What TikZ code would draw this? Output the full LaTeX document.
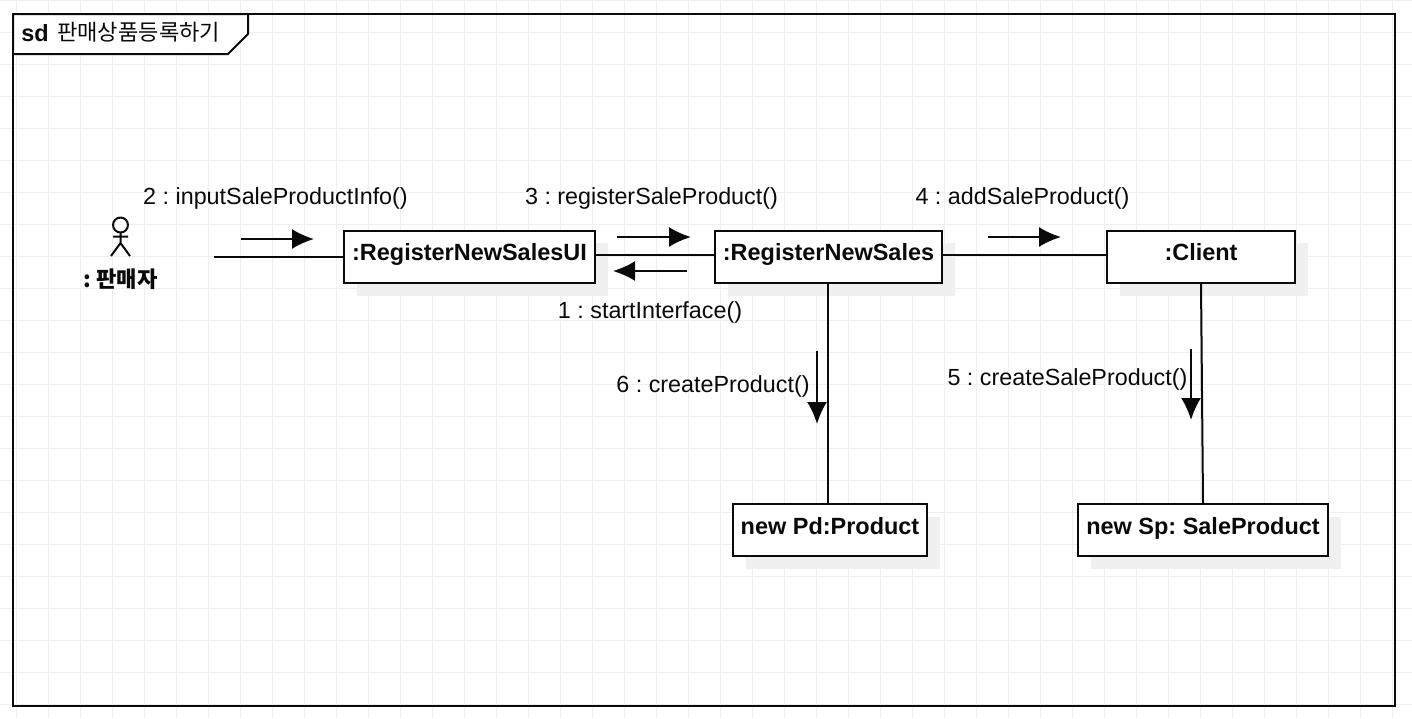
\documentclass[tikz,border=0pt]{standalone}
\usepackage{fontspec}
\setmainfont{Liberation Sans}
\newfontfamily\krfont{Noto Sans CJK KR}
\usetikzlibrary{arrows.meta}
\definecolor{gridc}{HTML}{EFEFEF}
\definecolor{shadowc}{HTML}{F0F0F0}
\definecolor{ink}{HTML}{0A0A0A}
\frenchspacing
\tikzset{
  x=0.75pt,y=-0.75pt,
  px/.style={line width=1.5pt,draw=ink},
  objbox/.style={px,fill=white,minimum height=39pt,inner sep=0pt,text height=14.25pt,text depth=9pt,font=\bfseries\fontsize{17.6}{20}\selectfont,text=ink},
  lowbox/.style={objbox,text height=15.75pt},
  link/.style={line width=1.5pt,draw=ink},
  msg/.style={line width=1.5pt,draw=ink,-{Latex[length=16.5pt,width=15pt]}},
  lbl/.style={font=\fontsize{17.5}{20}\selectfont,text=ink,inner sep=0pt,text height=13pt,text depth=4pt,yshift=-1.5pt},
}
\begin{document}
\begin{tikzpicture}
\useasboundingbox (0,0) rectangle (1412,718);
\fill[white] (0,0) rectangle (1412,718);
% grid
\foreach \gx in {16,48,...,1400} \draw[gridc,line width=0.75pt] (\gx,0) -- (\gx,718);
\foreach \gy in {0,32,...,710} \draw[gridc,line width=0.75pt] (0,\gy) -- (1412,\gy);
% frame
\draw[px] (13,14) rectangle (1395,706);
\draw[px,fill=white] (13,14) -- (248,14) -- (248,34) -- (228,54) -- (13,54) -- cycle;
\node[lbl,anchor=west,font=\bfseries\fontsize{17.6}{20}\selectfont] (sd) at (21,33) {sd};
\node[lbl,anchor=west,font=\krfont\fontsize{16.6}{20}\selectfont] (title) at (57,32.5) {판매상품등록하기};
% shadows
\fill[shadowc] (357,243) rectangle (608,296);
\fill[shadowc] (728,243) rectangle (955,296);
\fill[shadowc] (1120,243) rectangle (1308,296);
\fill[shadowc] (746,517) rectangle (940,569);
\fill[shadowc] (1091,517) rectangle (1341,569);
% boxes
\node[objbox,minimum width=188.25pt] (ui) at (469.5,256.5) {:RegisterNewSalesUI};
\node[objbox,minimum width=170.25pt] (rns) at (828.5,256.5) {:RegisterNewSales};
\node[objbox,minimum width=141pt] (client) at (1201,256.5) {:Client};
\node[lowbox,minimum width=145.5pt] (pd) at (830,530) {new Pd:Product};
\node[lowbox,minimum width=187.5pt] (sp) at (1203,530) {new Sp: SaleProduct};
% actor
\draw[line width=1.5pt,draw=ink] (120.5,225) circle (5.6pt);
\draw[line width=1.5pt,draw=ink] (120.5,232.5) -- (120.5,243) (111,256) -- (120.5,243) -- (130,256) (113,236.5) -- (128,236.5);
\node[lbl,font=\krfont\bfseries\fontsize{16.6}{20}\selectfont] (actor) at (120.5,279) {: 판매자};
% free ends
\coordinate (actorend) at (214,257);
\coordinate (a2s) at (241,239); \coordinate (a2e) at (314,239);
\coordinate (a3s) at (617,237); \coordinate (a3e) at (691,237);
\coordinate (a1s) at (687,271); \coordinate (a1e) at (613,271);
\coordinate (a4s) at (988,237); \coordinate (a4e) at (1061,237);
\coordinate (a6s) at (817,351); \coordinate (a6e) at (817,424);
\coordinate (a5s) at (1191,349); \coordinate (a5e) at (1191,420);
% links
\draw[link] (actorend) -- (ui.west |- actorend);
\draw[link] (ui.east |- 0,255) -- (rns.west |- 0,255);
\draw[link] (rns.east |- 0,255) -- (client.west |- 0,255);
\draw[link] (rns.south -| 828,0) -- (pd.north -| 828,0);
\draw[link] (client.south) -- (sp.north);
% messages
\draw[msg] (a2s) -- (a2e);
\draw[msg] (a3s) -- (a3e);
\draw[msg] (a1s) -- (a1e);
\draw[msg] (a4s) -- (a4e);
\draw[msg] (a6s) -- (a6e);
\draw[msg] (a5s) -- (a5e);
% labels
\node[lbl] (l2) at (275.5,196.5) {2 : inputSaleProductInfo()};
\node[lbl] (l3) at (651.5,196.5) {3 : registerSaleProduct()};
\node[lbl] (l4) at (1022.5,196.5) {4 : addSaleProduct()};
\node[lbl] (l1) at (650,310.5) {1 : startInterface()};
\node[lbl] (l6) at (713,384.5) {6 : createProduct()};
\node[lbl] (l5) at (1067.5,377.5) {5 : createSaleProduct()};
\end{tikzpicture}
\end{document}
